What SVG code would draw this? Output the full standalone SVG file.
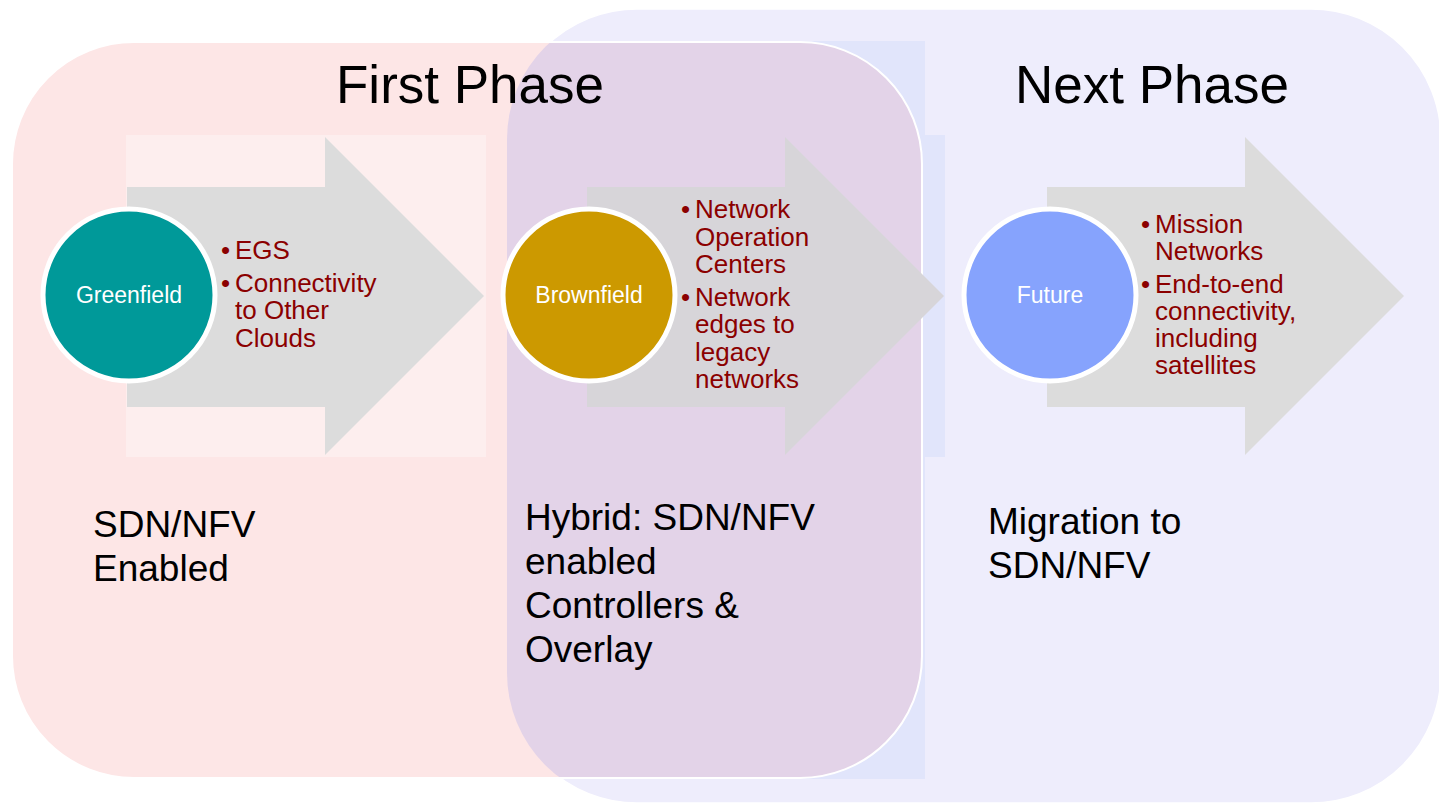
<svg xmlns="http://www.w3.org/2000/svg" width="1439" height="804" viewBox="0 0 1439 804">
  <style>
    .phase { font-family: "Liberation Sans", Arial, sans-serif; font-size: 53px; fill: #000; }
    .note { font-family: "Liberation Sans", Arial, sans-serif; font-size: 37px; fill: #000; }
    .bullet { font-family: "Liberation Sans", Arial, sans-serif; font-size: 26px; fill: #8b0000; }
    .label { font-family: "Liberation Sans", Arial, sans-serif; font-size: 23px; fill: #fff; text-anchor: middle; }
    .ring { stroke: #fff; stroke-width: 5; }
  </style>
  <defs>
    <clipPath id="nextClip">
      <rect x="507" y="9" width="934" height="794" rx="130" ry="130"/>
    </clipPath>
  </defs>

  <!-- phase backgrounds -->
  <g id="phase-backgrounds">
    <rect x="507" y="9" width="934" height="794" rx="130" ry="130" fill="#eeedfc" stroke="#fff" stroke-width="1.5"/>
    <rect x="800" y="41" width="125" height="738" fill="#e1e5fb"/>
    <rect x="880" y="135" width="65" height="322" fill="#e1e5fb"/>
    <rect x="12" y="42" width="910" height="736" rx="122" ry="122" fill="#fde6e6"/>
    <rect x="12" y="42" width="910" height="736" rx="122" ry="122" fill="#e3d3e8" clip-path="url(#nextClip)"/>
    <rect x="12" y="42" width="910" height="736" rx="122" ry="122" fill="none" stroke="#fff" stroke-width="2"/>
    <rect x="126" y="135" width="360" height="322" fill="#fdeeee"/>
  </g>

  <!-- phase titles -->
  <g id="phase-titles">
    <text class="phase" x="336" y="103">First Phase</text>
    <text class="phase" x="1015" y="103">Next Phase</text>
  </g>

  <!-- progression arrows -->
  <g id="connectors">
    <polygon points="127,187 325,187 325,137 484,296 325,455 325,407 127,407" fill="#dcdcdc"/>
    <polygon points="587,187 785,187 785,137 944,296 785,455 785,407 587,407" fill="#d7d5d9"/>
    <polygon points="1047,187 1245,187 1245,137 1404,296 1245,455 1245,407 1047,407" fill="#dcdcdc"/>
  </g>

  <!-- Greenfield -->
  <g id="greenfield">
    <circle class="ring" cx="129" cy="295" r="86" fill="#009999"/>
    <text class="label" x="129" y="303">Greenfield</text>
    <text class="bullet" x="221" y="259">•</text>
    <text class="bullet" x="235" y="259">EGS</text>
    <text class="bullet" x="221" y="292">•</text>
    <text class="bullet" x="235" y="292">Connectivity</text>
    <text class="bullet" x="235" y="319">to Other</text>
    <text class="bullet" x="235" y="347">Clouds</text>
    <text class="note" x="93" y="537">SDN/NFV</text>
    <text class="note" x="93" y="581">Enabled</text>
  </g>

  <!-- Brownfield -->
  <g id="brownfield">
    <circle class="ring" cx="589" cy="295" r="86" fill="#cc9900"/>
    <text class="label" x="589" y="303">Brownfield</text>
    <text class="bullet" x="681" y="218">•</text>
    <text class="bullet" x="695" y="218">Network</text>
    <text class="bullet" x="695" y="246">Operation</text>
    <text class="bullet" x="695" y="273">Centers</text>
    <text class="bullet" x="681" y="306">•</text>
    <text class="bullet" x="695" y="306">Network</text>
    <text class="bullet" x="695" y="333">edges to</text>
    <text class="bullet" x="695" y="361">legacy</text>
    <text class="bullet" x="695" y="388">networks</text>
    <text class="note" x="525" y="530">Hybrid: SDN/NFV</text>
    <text class="note" x="525" y="574">enabled</text>
    <text class="note" x="525" y="618">Controllers &amp;</text>
    <text class="note" x="525" y="662">Overlay</text>
  </g>

  <!-- Future -->
  <g id="future">
    <circle class="ring" cx="1050" cy="295" r="86" fill="#86a3fd"/>
    <text class="label" x="1050" y="303">Future</text>
    <text class="bullet" x="1141" y="233">•</text>
    <text class="bullet" x="1155" y="233">Mission</text>
    <text class="bullet" x="1155" y="260">Networks</text>
    <text class="bullet" x="1141" y="293">•</text>
    <text class="bullet" x="1155" y="293">End-to-end</text>
    <text class="bullet" x="1155" y="320">connectivity,</text>
    <text class="bullet" x="1155" y="347">including</text>
    <text class="bullet" x="1155" y="374">satellites</text>
    <text class="note" x="988" y="534">Migration to</text>
    <text class="note" x="988" y="578">SDN/NFV</text>
  </g>
</svg>
